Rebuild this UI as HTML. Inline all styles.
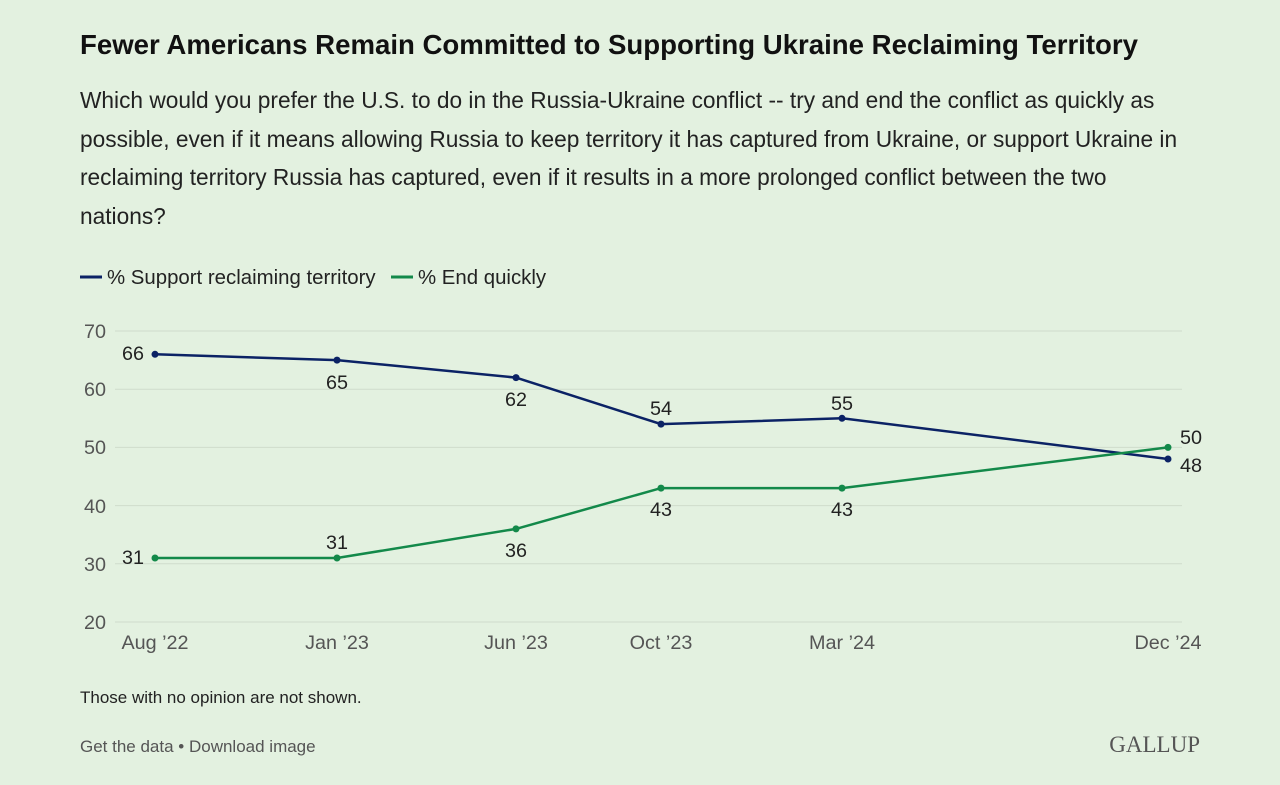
<!DOCTYPE html>
<html><head><meta charset="utf-8"><style>
body{margin:0;width:1280px;height:785px;background:#e3f1e0;font-family:"Liberation Sans",sans-serif;overflow:hidden}
.t{position:absolute;left:80px;top:29px;font-size:27.6px;font-weight:bold;color:#111;white-space:nowrap}
.s{position:absolute;left:80px;top:81px;font-size:22.7px;line-height:38.5px;color:#222;white-space:nowrap}
</style></head><body>
<div class="t">Fewer Americans Remain Committed to Supporting Ukraine Reclaiming Territory</div>
<div class="s">Which would you prefer the U.S. to do in the Russia-Ukraine conflict -- try and end the conflict as quickly as<br>possible, even if it means allowing Russia to keep territory it has captured from Ukraine, or support Ukraine in<br>reclaiming territory Russia has captured, even if it results in a more prolonged conflict between the two<br>nations?</div>
<svg width="1280" height="785" style="position:absolute;left:0;top:0" font-family="Liberation Sans, sans-serif">
<g font-size="20.4" fill="#222">
<line x1="80" y1="277" x2="102" y2="277" stroke="#0b2265" stroke-width="3"/>
<text x="107" y="284">% Support reclaiming territory</text>
<line x1="391" y1="277" x2="413" y2="277" stroke="#13894a" stroke-width="3"/>
<text x="418" y="284">% End quickly</text>
</g>
<g stroke="#cfdccc" stroke-width="1">
<line x1="115" y1="331" x2="1182" y2="331"/><line x1="115" y1="389.2" x2="1182" y2="389.2"/>
<line x1="115" y1="447.4" x2="1182" y2="447.4"/><line x1="115" y1="505.6" x2="1182" y2="505.6"/>
<line x1="115" y1="563.8" x2="1182" y2="563.8"/><line x1="115" y1="622" x2="1182" y2="622"/>
</g>
<g font-size="19.8" fill="#555" text-anchor="end">
<text x="106" y="338">70</text><text x="106" y="396">60</text><text x="106" y="454">50</text>
<text x="106" y="513">40</text><text x="106" y="571">30</text><text x="106" y="629">20</text>
</g>
<g font-size="19.8" fill="#555" text-anchor="middle">
<text x="155" y="649">Aug ’22</text><text x="337" y="649">Jan ’23</text><text x="516" y="649">Jun ’23</text>
<text x="661" y="649">Oct ’23</text><text x="842" y="649">Mar ’24</text><text x="1168" y="649">Dec ’24</text>
</g>
<polyline fill="none" stroke="#0b2265" stroke-width="2.5" points="155,354.3 337,360.1 516,377.6 661,424.1 842,418.3 1168,459"/>
<polyline fill="none" stroke="#13894a" stroke-width="2.5" points="155,558 337,558 516,528.9 661,488.1 842,488.1 1168,447.4"/>
<g fill="#0b2265"><circle cx="155" cy="354.3" r="3.5"/><circle cx="337" cy="360.1" r="3.5"/><circle cx="516" cy="377.6" r="3.5"/><circle cx="661" cy="424.1" r="3.5"/><circle cx="842" cy="418.3" r="3.5"/><circle cx="1168" cy="459" r="3.5"/></g>
<g fill="#13894a"><circle cx="155" cy="558" r="3.5"/><circle cx="337" cy="558" r="3.5"/><circle cx="516" cy="528.9" r="3.5"/><circle cx="661" cy="488.1" r="3.5"/><circle cx="842" cy="488.1" r="3.5"/><circle cx="1168" cy="447.4" r="3.5"/></g>
<g font-size="19.8" fill="#222" text-anchor="middle">
<text x="133" y="360">66</text><text x="337" y="389">65</text><text x="516" y="406">62</text>
<text x="661" y="415">54</text><text x="842" y="410">55</text><text x="1191" y="472">48</text>
<text x="133" y="564">31</text><text x="337" y="549">31</text><text x="516" y="557">36</text>
<text x="661" y="516">43</text><text x="842" y="516">43</text><text x="1191" y="444">50</text>
</g>
<text x="80" y="703" font-size="17" fill="#222">Those with no opinion are not shown.</text>
<text x="80" y="752" font-size="17" fill="#555">Get the data • Download image</text>
<text x="1200" y="752" font-size="23" fill="#555" text-anchor="end" font-family="Liberation Serif, serif">GALLUP</text>
</svg>
</body></html>
